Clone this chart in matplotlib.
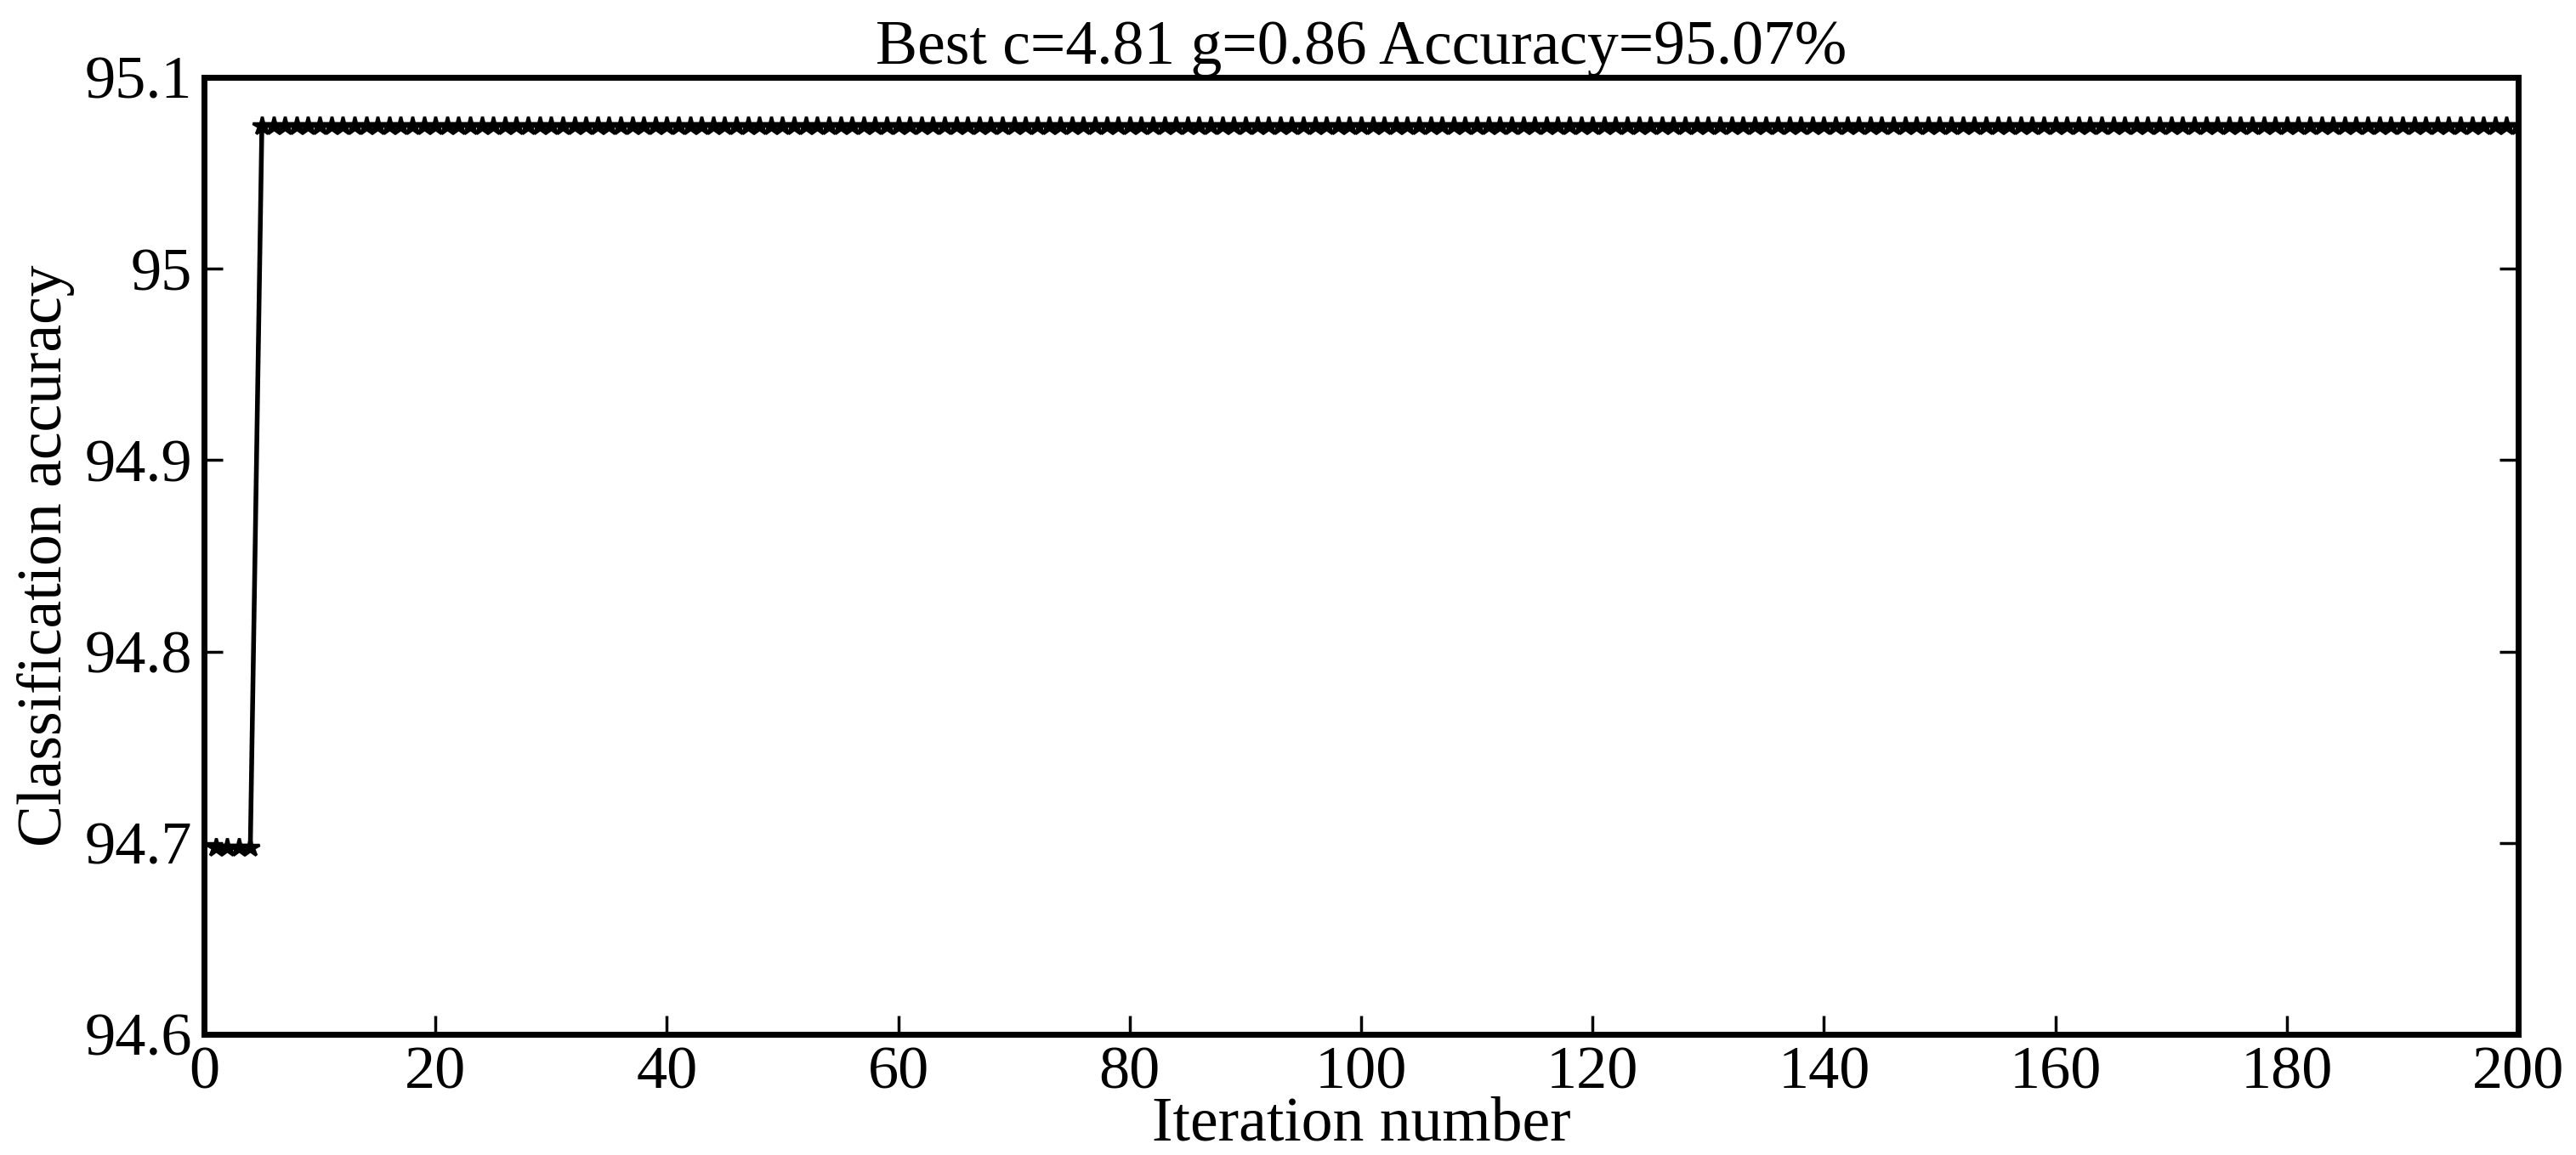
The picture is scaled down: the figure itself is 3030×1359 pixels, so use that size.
import matplotlib
matplotlib.use("Agg")
import matplotlib.pyplot as plt
import numpy as np

iterations = list(range(1, 201))
low_value = 94.6975
high_value = 95.0748
switch_iter = 5
accuracy = [low_value if i < switch_iter else high_value for i in iterations]

plt.rcParams['font.family'] = ['Liberation Serif', 'DejaVu Serif']
fig = plt.figure(figsize=(30.3, 13.59), dpi=100)
ax = fig.add_axes([240/3030, 1-1217/1359, (2962-240)/3030, (1217-91)/1359])
ax.plot(iterations, accuracy, color='black', linewidth=4, marker='*', markersize=16, markeredgewidth=2.5)
ax.set_xlim(0, 200)
ax.set_ylim(94.6, 95.1)
ax.set_xticks(range(0, 201, 20))
ax.set_yticks([94.6, 94.7, 94.8, 94.9, 95.0, 95.1])
ax.set_yticklabels(['94.6', '94.7', '94.8', '94.9', '95', '95.1'])
ax.tick_params(axis='both', direction='in', length=16, width=2.5, labelsize=52, right=True, top=False, pad=10)
for s in ax.spines.values():
    s.set_linewidth(5)
ax.set_xlabel('Iteration number', fontsize=53, labelpad=-4)
ax.set_ylabel('Classification accuracy', fontsize=53, labelpad=8)
ax.set_title('Best c=4.81 g=0.86 Accuracy=95.07%', fontsize=53, pad=8)
fig.savefig('out.png', dpi=100)
